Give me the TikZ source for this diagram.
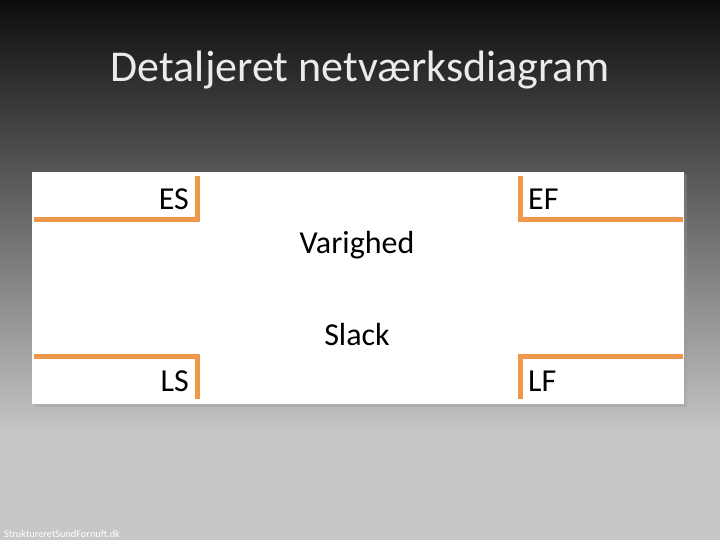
\documentclass[tikz,border=0pt]{standalone}
\usepackage{fontspec}
\setmainfont{Carlito}
\usetikzlibrary{positioning}
\definecolor{bracketorange}{HTML}{F0984A}

\begin{document}
\begin{tikzpicture}[x=1pt, y=-1pt,
  bracket/.style={draw=bracketorange, line width=5pt, line cap=rect},
  label node/.style={font=\fontsize{32}{38}\selectfont, inner sep=0pt}]
% background
\fill[black!22] (0,0) rectangle (720,540);
\shade[top color=black!95, bottom color=black!23] (0,0) rectangle (720,430);
\useasboundingbox (0,0) rectangle (720,540);
\node[font=\fontsize{44}{52}\selectfont, text=black!8, anchor=base, inner sep=0pt] (title) at (360,82) {Detaljeret netværksdiagram};
% box
\fill[black!40, opacity=0.35] (34,174) rectangle (687,407);
\fill[white] (32,172) rectangle (684,404);
\coordinate (es a) at (36,220); \coordinate (es c) at (197,220); \coordinate (es b) at (197,179);
\coordinate (ef a) at (520,179); \coordinate (ef c) at (520,220); \coordinate (ef b) at (680,220);
\coordinate (ls a) at (36,356); \coordinate (ls c) at (197,356); \coordinate (ls b) at (197,396);
\coordinate (lf a) at (520,396); \coordinate (lf c) at (520,356); \coordinate (lf b) at (680,356);
\draw[bracket] (es a) -- (es c) -- (es b);
\draw[bracket] (ef a) -- (ef c) -- (ef b);
\draw[bracket] (ls a) -- (ls c) -- (ls b);
\draw[bracket] (lf a) -- (lf c) -- (lf b);
\node[label node, anchor=base east] (es) at (189,210) {ES};
\node[label node, anchor=base west] (ef) at (528,210) {EF};
\node[label node, anchor=base east] (ls) at (189,391) {LS};
\node[label node, anchor=base west] (lf) at (528,391) {LF};
\node[label node, anchor=base] (varighed) at (357,254) {Varighed};
\node[label node, anchor=base] (slack) at (357,345) {Slack};
\node[font=\fontsize{10.3}{12}\selectfont, text=white, anchor=base west, inner sep=0pt] (site) at (4,537) {StruktureretSundFornuft.dk};
\end{tikzpicture}
\end{document}
